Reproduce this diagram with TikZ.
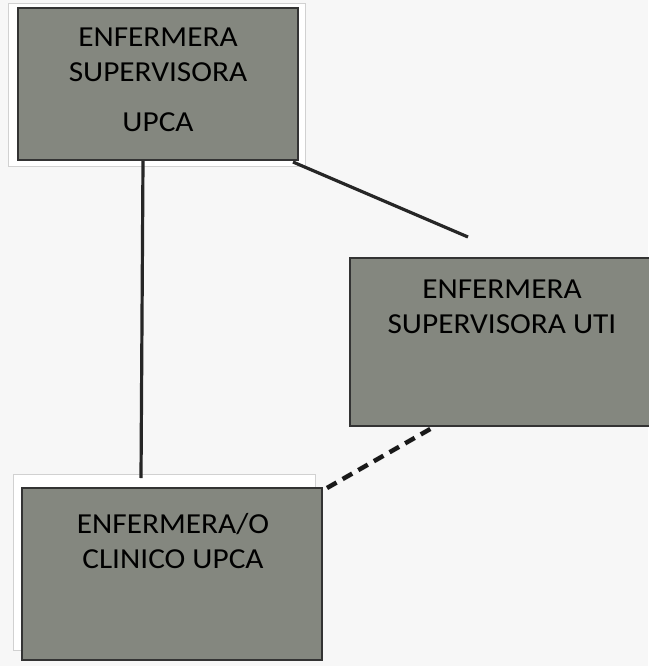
\documentclass[tikz,border=0pt]{standalone}
\usepackage{fontspec}
\setmainfont{Carlito}[FakeStretch=1.08]
\begin{document}
\begin{tikzpicture}[x=1pt,y=-1pt,
  box/.style={draw=black!80, line width=1.6pt, fill=boxgray, rectangle, inner sep=0pt},
  ghost/.style={draw=black!18, line width=0.8pt, fill=white},
  txt/.style={font=\fontsize{29}{35}\selectfont, align=center, inner sep=0pt, anchor=north, text=black},
  link/.style={draw=black!85, line width=3.2pt},
  dlink/.style={draw=black!90, line width=4.5pt, dash pattern=on 11pt off 7pt}]
\definecolor{boxgray}{RGB}{132,135,127}
\useasboundingbox[fill=black!3] (0,0) rectangle (648,666);
% faint paper frames behind boxes
\draw[ghost] (8,3) rectangle (305,166);
\draw[ghost] (13,474) rectangle (315,650);
% boxes
\node[box, minimum width=280pt, minimum height=152pt] (top) at (158,84) {};
\node[box, minimum width=300pt, minimum height=168pt] (uti) at (500,342) {};
\node[box, minimum width=300pt, minimum height=172pt] (cli) at (172,574) {};
% texts
\node[txt] (toptxt) at (158,28) {ENFERMERA\\SUPERVISORA\\[15pt]UPCA};
\node[txt] (utitxt) at (502,280) {ENFERMERA\\SUPERVISORA UTI};
\node[txt] (clitxt) at (173,513) {ENFERMERA/O\\CLINICO UPCA};
% connectors
\coordinate (vtop) at (143,161);
\coordinate (vbot) at (141,478);
\coordinate (dstart) at (293,162);
\coordinate (dend) at (468,237);
\coordinate (qa) at (327,488);
\coordinate (qb) at (432,428);
\draw[link] (vtop) -- (vbot);
\draw[link, line cap=butt] (dstart) -- (dend);
\draw[dlink] (qa) -- (qb);
\end{tikzpicture}
\end{document}
